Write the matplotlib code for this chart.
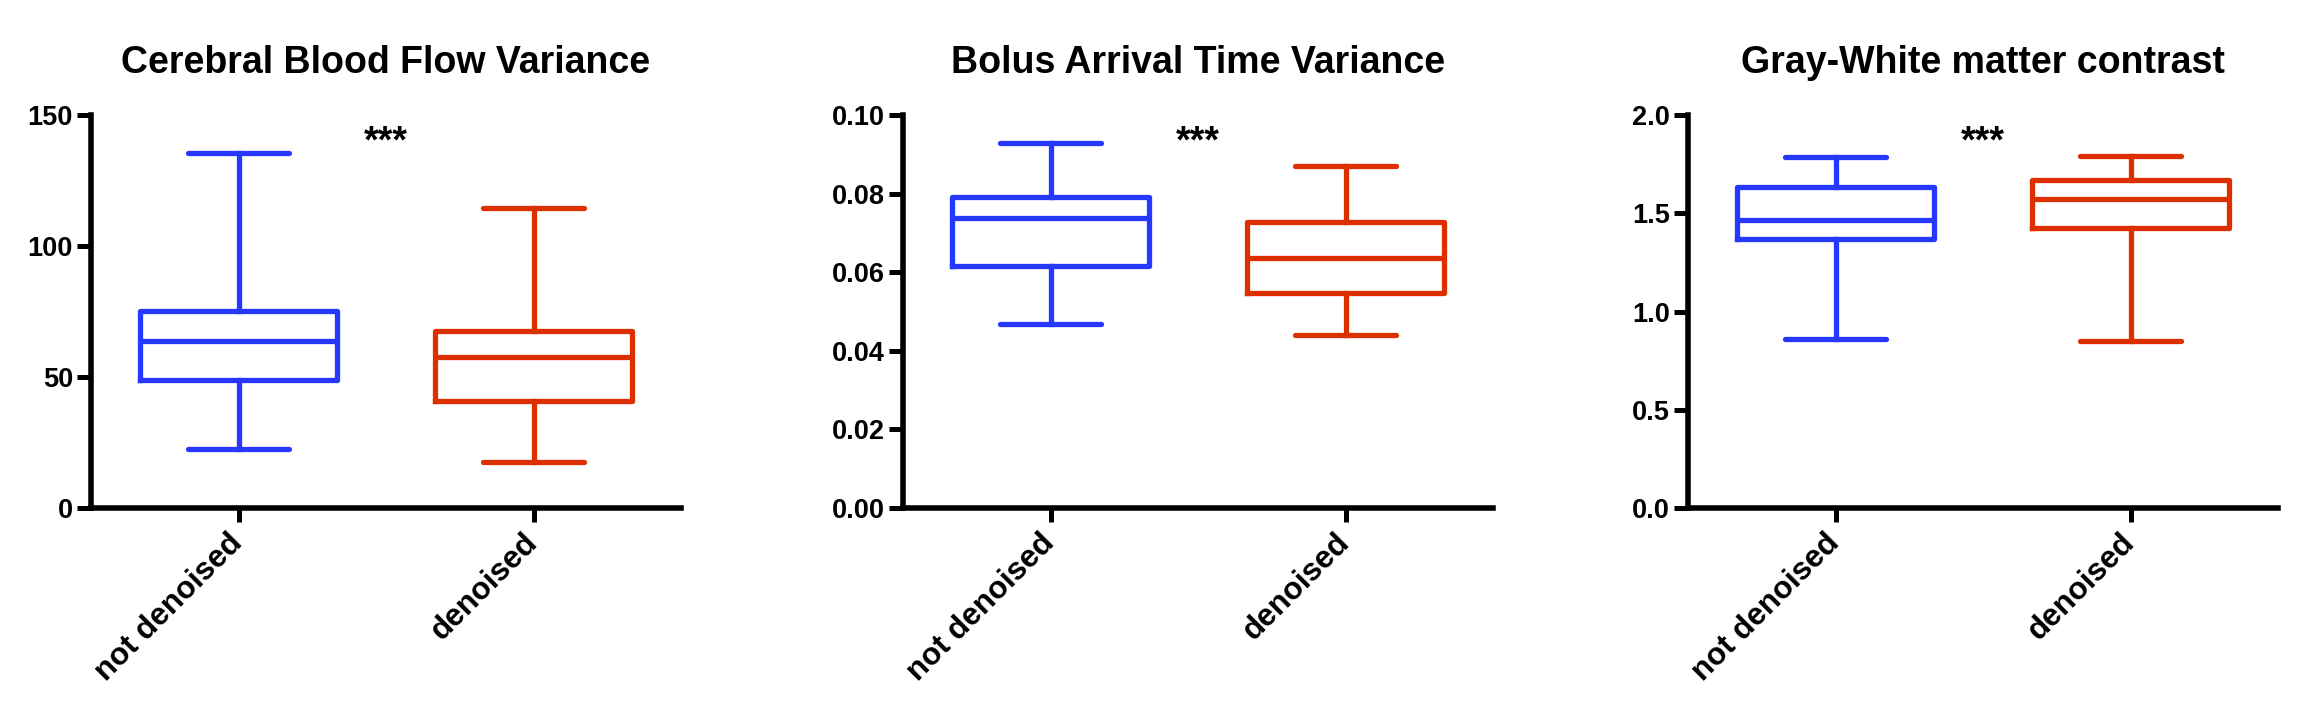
import matplotlib
matplotlib.use("Agg")
import matplotlib.pyplot as plt
import numpy as np

plt.rcParams['font.family'] = ['Liberation Sans', 'DejaVu Sans']
plt.rcParams['font.weight'] = 'bold'

groups = ["not denoised", "denoised"]
titles = ["Cerebral Blood Flow Variance", "Bolus Arrival Time Variance", "Gray-White matter contrast"]

# box summaries: [not denoised, denoised]
cbf_low = [22.6, 17.4]
cbf_q1 = [48.9, 40.9]
cbf_med = [63.8, 57.5]
cbf_q3 = [75.3, 67.4]
cbf_high = [135.4, 114.4]

bat_low = [0.0468, 0.0441]
bat_q1 = [0.0616, 0.0548]
bat_med = [0.0737, 0.0636]
bat_q3 = [0.0792, 0.0729]
bat_high = [0.0930, 0.0869]

gw_low = [0.862, 0.850]
gw_q1 = [1.371, 1.424]
gw_med = [1.466, 1.575]
gw_q3 = [1.636, 1.669]
gw_high = [1.788, 1.793]

yticks = [[0, 50, 100, 150],
          [0.00, 0.02, 0.04, 0.06, 0.08, 0.10],
          [0.0, 0.5, 1.0, 1.5, 2.0]]
ytick_labels = [["0", "50", "100", "150"],
                ["0.00", "0.02", "0.04", "0.06", "0.08", "0.10"],
                ["0.0", "0.5", "1.0", "1.5", "2.0"]]
signif = "***"

colors = ["#2637FF", "#DD3000"]

panels = [
    (cbf_low, cbf_q1, cbf_med, cbf_q3, cbf_high),
    (bat_low, bat_q1, bat_med, bat_q3, bat_high),
    (gw_low, gw_q1, gw_med, gw_q3, gw_high),
]

fig = plt.figure(figsize=(23.05, 7.16), dpi=100)
lefts = [91 / 2305, 903 / 2305, 1688 / 2305]
width = 590 / 2305
bottom = 1 - 508 / 716
height = 393 / 716

for k, (low, q1, med, q3, high) in enumerate(panels):
    ax = fig.add_axes([lefts[k], bottom, width, height])
    for i in range(2):
        st = [dict(whislo=low[i], q1=q1[i], med=med[i], q3=q3[i], whishi=high[i], fliers=[])]
        c = colors[i]
        ax.bxp(st, positions=[i + 1], widths=0.67, capwidths=0.34, showfliers=False,
               boxprops=dict(color=c, linewidth=3.8),
               medianprops=dict(color=c, linewidth=3.8),
               whiskerprops=dict(color=c, linewidth=3.8),
               capprops=dict(color=c, linewidth=3.8, solid_capstyle='round'))
    ax.set_xlim(0.5, 2.5)
    ax.set_ylim(yticks[k][0], yticks[k][-1])
    ax.set_yticks(yticks[k])
    ax.set_yticklabels(ytick_labels[k], fontsize=19.5, fontweight='bold')
    ax.set_xticks([1, 2])
    ax.set_xticklabels(groups, fontsize=22.5, fontweight='bold', rotation=45,
                       ha='right', va='center', rotation_mode='anchor')
    for s in ['top', 'right']:
        ax.spines[s].set_visible(False)
    for s in ['left', 'bottom']:
        ax.spines[s].set_linewidth(4)
    ax.tick_params(axis='both', width=3.6, length=10, pad=3)
    ax.tick_params(axis='x', pad=12)
    ax.set_title(titles[k], fontsize=27, fontweight='bold', pad=30)
    ax.text(1.5, 0.905, signif, transform=ax.get_xaxis_transform(),
            ha='center', va='baseline', fontsize=27, fontweight='bold')

fig.savefig("out.png", dpi=100)
